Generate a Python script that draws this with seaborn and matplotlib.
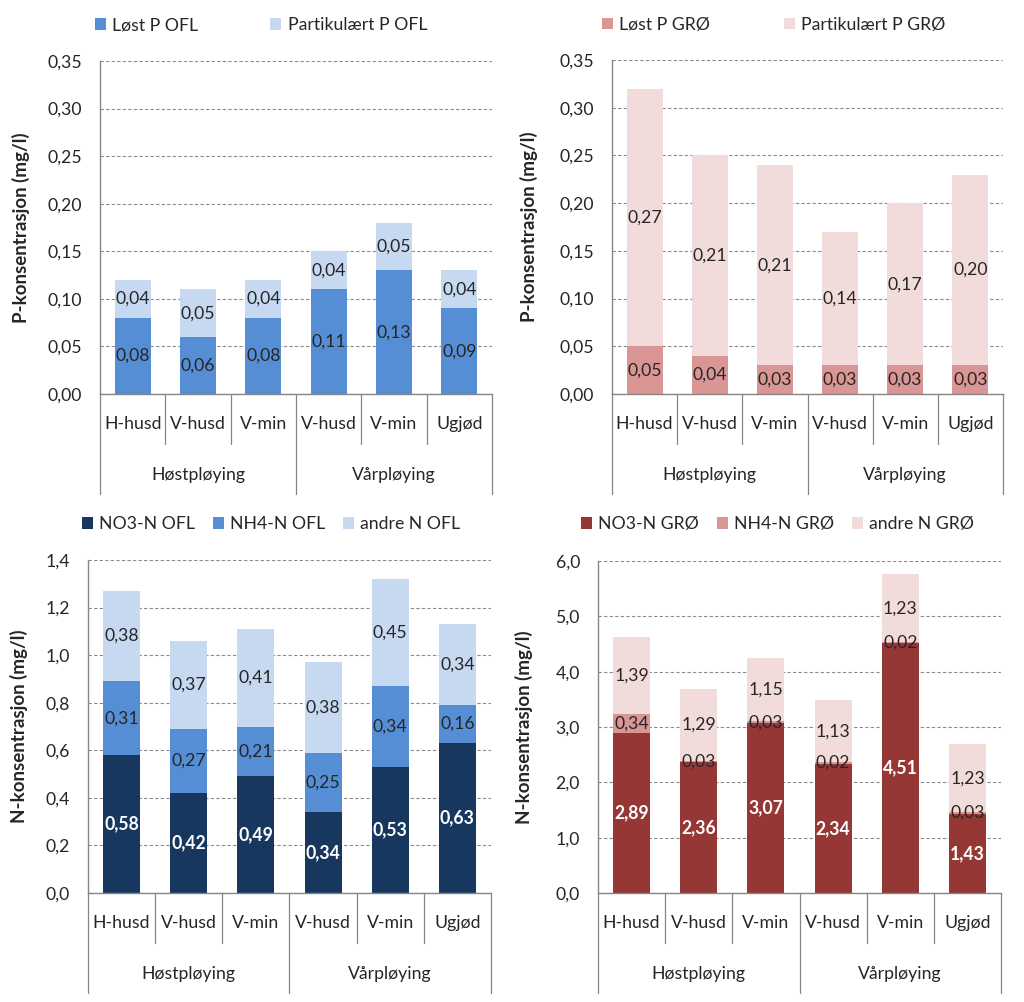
import seaborn as sns
import matplotlib.pyplot as plt
import pandas as pd
from matplotlib.patches import Patch
from matplotlib.ticker import FuncFormatter

groups = ["Høstpløying", "Høstpløying", "Høstpløying", "Vårpløying", "Vårpløying", "Vårpløying"]
treatments = ["H-husd", "V-husd", "V-min", "V-husd", "V-min", "Ugjød"]

# fosfor, overflate (OFL) og grøft (GRØ)
lost_p_ofl = [0.08, 0.06, 0.08, 0.11, 0.13, 0.09]
part_p_ofl = [0.04, 0.05, 0.04, 0.04, 0.05, 0.04]
lost_p_gro = [0.05, 0.04, 0.03, 0.03, 0.03, 0.03]
part_p_gro = [0.27, 0.21, 0.21, 0.14, 0.17, 0.20]

# nitrogen
no3_ofl = [0.58, 0.42, 0.49, 0.34, 0.53, 0.63]
nh4_ofl = [0.31, 0.27, 0.21, 0.25, 0.34, 0.16]
andre_ofl = [0.38, 0.37, 0.41, 0.38, 0.45, 0.34]
no3_gro = [2.89, 2.36, 3.07, 2.34, 4.51, 1.43]
nh4_gro = [0.34, 0.03, 0.03, 0.02, 0.02, 0.03]
andre_gro = [1.39, 1.29, 1.15, 1.13, 1.23, 1.23]

FS = 12.7
AXC = "#868686"
DARK = "#262626"


def comma(v, nd):
    return f"{v:.{nd}f}".replace(".", ",")


def stacked_panel(ax, layers, names, colors, txt_colors, ymax, step, nd,
                  ylabel, ylab_x, leg_xy, colsp):
    keys = [f"{g}|{t}" for g, t in zip(groups, treatments)]
    bottom = [0.0] * len(keys)
    for vals, col, tc in zip(layers, colors, txt_colors):
        df = pd.DataFrame({"key": keys, "val": vals})
        sns.barplot(data=df, x="key", y="val", order=keys, color=col, saturation=1,
                    width=0.55, bottom=bottom, errorbar=None, linewidth=0, ax=ax)
        for i, v in enumerate(vals):
            ax.text(i, bottom[i] + v / 2, comma(v, 2), ha="center", va="center",
                    fontsize=FS, color=tc,
                    fontweight="bold" if tc == "white" else "normal")
        bottom = [b + v for b, v in zip(bottom, vals)]

    n = round(ymax / step)
    ax.set_ylim(0, ymax)
    ax.set_xlim(-0.5, len(keys) - 0.5)
    ax.set_yticks([i * step for i in range(n + 1)])
    ax.yaxis.set_major_formatter(FuncFormatter(lambda v, p: comma(v, nd)))
    ax.grid(axis="y", color="#8c8c8c", linestyle=(0, (3, 2)), linewidth=0.8)
    ax.set_axisbelow(True)
    for s in ["top", "right"]:
        ax.spines[s].set_visible(False)
    for s in ["left", "bottom"]:
        ax.spines[s].set_color(AXC)
        ax.spines[s].set_linewidth(1.0)
    ax.tick_params(axis="y", length=5, color=AXC, labelsize=FS, pad=8, labelcolor=DARK)
    ax.tick_params(axis="x", length=0, labelbottom=False)
    ax.set_xlabel("")
    ax.set_ylabel(ylabel, fontsize=13.5, fontweight="bold", color=DARK)
    ax.yaxis.set_label_coords(ylab_x, 0.5)

    # kategoriakse i to nivåer
    tr = ax.get_xaxis_transform()
    h = 333.0
    for i, t in enumerate(treatments):
        ax.text(i, -30 / h, t, transform=tr, ha="center", va="center",
                fontsize=FS, color=DARK)
    for x in [-0.5, 0.5, 1.5, 2.5, 3.5, 4.5, 5.5]:
        d = 100 / h if x in (-0.5, 2.5, 5.5) else 50 / h
        ax.plot([x, x], [0, -d], transform=tr, clip_on=False, color=AXC, lw=0.9)
    for g, xc in [(groups[0], 1), (groups[3], 4)]:
        ax.text(xc, -81 / h, g, transform=tr, ha="center", va="center",
                fontsize=FS, color=DARK)

    handles = [Patch(facecolor=c, edgecolor="none", label=nm) for c, nm in zip(colors, names)]
    ax.legend(handles=handles, loc="center left", bbox_to_anchor=leg_xy, ncol=len(names),
              frameon=False, fontsize=FS, handlelength=0.62, handleheight=0.62,
              handletextpad=0.35, columnspacing=colsp, borderpad=0, borderaxespad=0,
              labelcolor=DARK)


sns.set_theme(style="white")
plt.rcParams["font.family"] = ["Lato", "DejaVu Sans"]

fig = plt.figure(figsize=(10.24, 10.02), dpi=100)
ax1 = fig.add_axes([100 / 1024, 608 / 1002, 392 / 1024, 333 / 1002])
ax2 = fig.add_axes([612 / 1024, 608 / 1002, 391 / 1024, 334 / 1002])
ax3 = fig.add_axes([88 / 1024, 109 / 1002, 403 / 1024, 333 / 1002])
ax4 = fig.add_axes([598 / 1024, 109 / 1002, 403 / 1024, 332 / 1002])

stacked_panel(ax1, [lost_p_ofl, part_p_ofl], ["Løst P OFL", "Partikulært P OFL"],
              ["#558ED5", "#C6D9F1"], [DARK, DARK], 0.35, 0.05, 2,
              "P-konsentrasjon (mg/l)", -0.179, (-0.013, 1.108), 4.1)
stacked_panel(ax2, [lost_p_gro, part_p_gro], ["Løst P GRØ", "Partikulært P GRØ"],
              ["#D99694", "#F2DCDB"], [DARK, DARK], 0.35, 0.05, 2,
              "P-konsentrasjon (mg/l)", -0.189, (-0.026, 1.105), 4.2)
stacked_panel(ax3, [no3_ofl, nh4_ofl, andre_ofl], ["NO3-N OFL", "NH4-N OFL", "andre N OFL"],
              ["#17375E", "#558ED5", "#C6D9F1"], ["white", DARK, DARK], 1.4, 0.2, 1,
              "N-konsentrasjon (mg/l)", -0.149, (-0.015, 1.108), 1.0)
stacked_panel(ax4, [no3_gro, nh4_gro, andre_gro], ["NO3-N GRØ", "NH4-N GRØ", "andre N GRØ"],
              ["#953735", "#D99694", "#F2DCDB"], ["white", DARK, DARK], 6.0, 1.0, 1,
              "N-konsentrasjon (mg/l)", -0.161, (-0.042, 1.111), 1.0)

fig.savefig("out.png", dpi=100, facecolor="white")
